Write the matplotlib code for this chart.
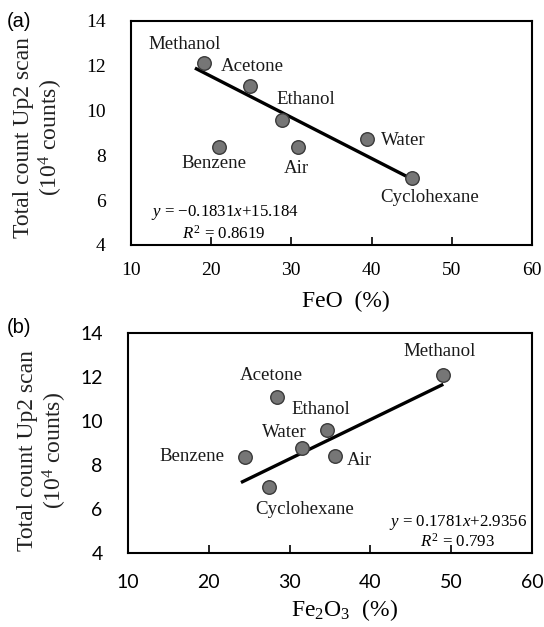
import matplotlib
matplotlib.use("Agg")
import matplotlib.pyplot as plt
import numpy as np

# Sample names and measured values
samples = ["Methanol", "Acetone", "Ethanol", "Benzene", "Air", "Water", "Cyclohexane"]
feo = [19.1, 24.9, 28.9, 21.0, 30.9, 39.5, 45.0]
fe2o3 = [49.0, 28.5, 34.6, 24.5, 35.6, 31.6, 27.5]
counts_a = [12.1, 11.1, 9.58, 8.35, 8.35, 8.72, 7.0]
counts_b = [12.1, 11.1, 9.6, 8.35, 8.4, 8.78, 7.0]

# Linear fits (slope, intercept, R^2)
fit_a = (-0.1831, 15.184, 0.8619)
fit_b = (0.1781, 2.9356, 0.793)
fit_a_range = [18.0, 45.0]
fit_b_range = [24.0, 49.0]

x_ticks = [10, 20, 30, 40, 50, 60]
y_ticks = [4, 6, 8, 10, 12, 14]

# Label placement (data coordinates)
labels_a = {
    "Methanol": (16.7, 12.92),
    "Acetone": (25.2, 11.95),
    "Ethanol": (31.8, 10.5),
    "Benzene": (20.4, 7.65),
    "Air": (30.7, 7.42),
    "Water": (44.0, 8.65),
    "Cyclohexane": (47.3, 6.1),
}
labels_b = {
    "Methanol": (48.6, 13.14),
    "Acetone": (27.7, 12.05),
    "Ethanol": (33.9, 10.5),
    "Benzene": (18.0, 8.37),
    "Air": (38.6, 8.2),
    "Water": (29.3, 9.48),
    "Cyclohexane": (31.9, 6.0),
}

serif = ["Liberation Serif", "DejaVu Serif"]
sans = ["Lato", "DejaVu Sans"]
plt.rcParams["mathtext.fontset"] = "custom"
plt.rcParams["mathtext.rm"] = "Liberation Serif"
plt.rcParams["mathtext.it"] = "Liberation Serif:italic"

fig = plt.figure(figsize=(5.44, 6.27), dpi=100)
ax_a = fig.add_axes([0.2403, 0.6093, 0.7377, 0.3577])
ax_b = fig.add_axes([0.2347, 0.1175, 0.7438, 0.3519])


def style_axes(ax, tick_family, xpad):
    ax.set_xlim(10, 60)
    ax.set_ylim(4, 14)
    ax.set_xticks(x_ticks)
    ax.set_yticks(y_ticks)
    ax.tick_params(axis="x", direction="in", length=6, width=1.2, pad=xpad,
                   labelsize=14, colors="black")
    ax.tick_params(axis="y", length=0, pad=18, labelsize=14)
    for lab in ax.get_xticklabels() + ax.get_yticklabels():
        lab.set_family(tick_family)
    for sp in ax.spines.values():
        sp.set_linewidth(1.5)
        sp.set_color("black")
    ax.set_ylabel("Total count Up2 scan\n(10$^4$ counts)", family=serif,
                  fontsize=17, linespacing=1.12, color="#222222",
                  va="center", ha="center")


def draw_panel(ax, xs, ys, fit, frange, labels):
    xf = np.array(frange)
    ax.plot(xf, fit[0] * xf + fit[1], color="black", lw=2.4, zorder=2,
            solid_capstyle="butt")
    ax.scatter(xs, ys, s=95, color="#767676", edgecolor="#3a3a3a",
               linewidth=1.0, zorder=3)
    for name in samples:
        tx, ty = labels[name]
        ax.text(tx, ty, name, ha="center", va="center", fontsize=13.6,
                family=serif, color="#1a1a1a")


# Panel (a): FeO
draw_panel(ax_a, feo, counts_a, fit_a, fit_a_range, labels_a)
style_axes(ax_a, serif, 12)
ax_a.yaxis.set_label_coords(-0.228, 0.479)
ax_a.set_xlabel("FeO  (%)", family=serif, fontsize=17, va="center")
ax_a.xaxis.set_label_coords(0.536, -0.25)
ax_a.text(21.8, 5.43, r"$y$ = $-$0.1831$x$+15.184", ha="center", va="center",
          fontsize=12.2, family=serif)
ax_a.text(21.6, 4.52, r"$R^2$ = 0.8619", ha="center", va="center",
          fontsize=12.2, family=serif)

# Panel (b): Fe2O3
draw_panel(ax_b, fe2o3, counts_b, fit_b, fit_b_range, labels_b)
style_axes(ax_b, sans, 15)
ax_b.yaxis.set_label_coords(-0.21, 0.465)
ax_b.set_xlabel("Fe$_2$O$_3$  (%)", family=serif, fontsize=17, va="center")
ax_b.xaxis.set_label_coords(0.535, -0.257)
ax_b.text(50.8, 5.4, r"$y$ = 0.1781$x$+2.9356", ha="center", va="center",
          fontsize=12.2, family=serif)
ax_b.text(50.8, 4.53, r"$R^2$ = 0.793", ha="center", va="center",
          fontsize=12.2, family=serif)

# Panel tags
fig.text(0.013, 0.965, "(a)", fontsize=14.5, family=["Liberation Sans"],
         ha="left", va="center")
fig.text(0.013, 0.478, "(b)", fontsize=14.5, family=["Liberation Sans"],
         ha="left", va="center")

fig.savefig("out.png", dpi=100)
